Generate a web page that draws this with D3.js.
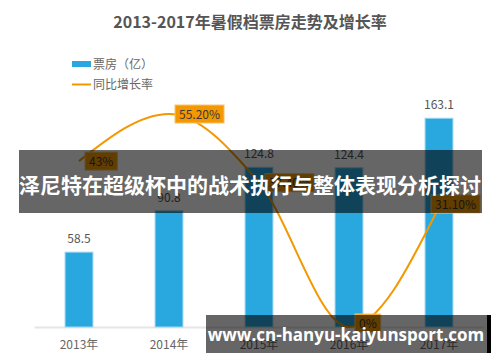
<!DOCTYPE html>
<html lang="zh">
<head>
    <meta charset="UTF-8">
    <title>票房走势</title>
    <script src="https://d3js.org/d3.v7.min.js"></script>
    <style>
        body { margin: 0; background: #fff; }
        text { font-family: "Noto Sans CJK SC", "Noto Sans", sans-serif; }
    </style>
</head>
<body>
<script>
    // data
    var years = ["2013年", "2014年", "2015年", "2016年", "2017年"];
    var boxOffice = [58.5, 90.8, 124.8, 124.4, 163.1];
    var growth = [43, 55.2, 37.4, 0, 31.1];
    var growthLabels = ["43%", "55.20%", "37.40%", "0%", "31.10%"];

    var width = 500, height = 362;
    var margin = {top: 71, right: 16, bottom: 35, left: 34};

    var svg = d3.select("body").append("svg")
        .attr("width", width)
        .attr("height", height);

    var x = d3.scaleBand()
        .domain(years)
        .range([margin.left, width - margin.right])
        .paddingInner(0.69)
        .paddingOuter(0.345);

    var yBar = d3.scaleLinear()
        .domain([0, 200])
        .range([height - margin.bottom, margin.top]);

    var yLine = d3.scaleLinear()
        .domain([0, 60])
        .range([height - margin.bottom, 95.5]);

    // title
    svg.append("text")
        .attr("x", width / 2)
        .attr("y", 28)
        .attr("text-anchor", "middle")
        .style("font-size", "16px")
        .style("font-weight", "bold")
        .style("fill", "#555")
        .text("2013-2017年暑假档票房走势及增长率");

    // legend
    svg.append("rect")
        .attr("x", 72).attr("y", 61)
        .attr("width", 19).attr("height", 6)
        .style("fill", "#29a8e0");
    svg.append("text")
        .attr("x", 93).attr("y", 68.5)
        .style("font-size", "12px")
        .style("fill", "#666")
        .text("票房（亿）");
    svg.append("line")
        .attr("x1", 72).attr("x2", 91)
        .attr("y1", 84.5).attr("y2", 84.5)
        .style("stroke", "#f39800")
        .style("stroke-width", 2);
    svg.append("text")
        .attr("x", 93).attr("y", 89)
        .style("font-size", "12px")
        .style("fill", "#666")
        .text("同比增长率");

    // x axis
    var xAxis = svg.append("g")
        .attr("transform", "translate(0," + (height - margin.bottom) + ")")
        .call(d3.axisBottom(x).tickSize(0).tickPadding(13));
    xAxis.select(".domain").style("stroke", "#e6e6e6").style("stroke-width", 2);
    xAxis.selectAll("text")
        .style("font-size", "12px")
        .style("fill", "#666")
        .style("font-family", "'Noto Sans CJK SC', sans-serif");

    // bars
    svg.selectAll(".bar")
        .data(boxOffice)
        .enter()
        .append("rect")
        .attr("class", "bar")
        .attr("x", function(d, i) { return x(years[i]); })
        .attr("y", function(d) { return yBar(d); })
        .attr("width", x.bandwidth())
        .attr("height", function(d) { return yBar(0) - yBar(d); })
        .style("fill", "#29a8e0")
        .style("stroke", "#9fd8f2")
        .style("stroke-width", 1);

    svg.selectAll(".barLabel")
        .data(boxOffice)
        .enter()
        .append("text")
        .attr("class", "barLabel")
        .attr("x", function(d, i) { return x(years[i]) + x.bandwidth() / 2; })
        .attr("y", function(d) { return yBar(d) - 9; })
        .attr("text-anchor", "middle")
        .style("font-size", "12px")
        .style("fill", "#555")
        .text(function(d) { return d; });

    // growth line
    var line = d3.line()
        .x(function(d, i) { return x(years[i]) + x.bandwidth() / 2; })
        .y(function(d) { return yLine(d); })
        .curve(d3.curveMonotoneX);

    svg.append("path")
        .datum(growth)
        .attr("d", line)
        .style("fill", "none")
        .style("stroke", "#f39800")
        .style("stroke-width", 2);

    // growth labels (last one pulled left, bottom one nudged up to stay inside)
    var labels = svg.selectAll(".growthLabel")
        .data(growth)
        .enter()
        .append("g")
        .attr("class", "growthLabel")
        .attr("transform", function(d, i) {
            var px = x(years[i]) + x.bandwidth() / 2 + 6;
            var py = yLine(d);
            if (i === growth.length - 1) { px = x(years[i]) + x.bandwidth() / 2 - 8; py -= 3; }
            if (d === 0) py -= 4;
            return "translate(" + px + "," + py + ")";
        });

    labels.each(function(d, i) {
        var g = d3.select(this);
        var t = g.append("text")
            .attr("x", 4)
            .attr("y", 4.5)
            .style("font-size", "12px")
            .style("fill", "#3a3a3a")
            .text(growthLabels[i]);
        var w = t.node().getComputedTextLength() + 8;
        g.insert("rect", "text")
            .attr("x", 0).attr("y", -9)
            .attr("width", w).attr("height", 18)
            .style("fill", "#f39800")
            .style("stroke", "#f8c46e")
            .style("stroke-width", 1);
    });

    // overlay banners
    svg.append("rect")
        .attr("x", 19).attr("y", 150)
        .attr("width", 463).attr("height", 63)
        .style("fill", "rgba(0,0,0,0.6)");
    svg.append("text")
        .attr("x", 250).attr("y", 193)
        .attr("text-anchor", "middle")
        .style("font-size", "21px")
        .style("font-weight", "bold")
        .style("fill", "#fff")
        .text("泽尼特在超级杯中的战术执行与整体表现分析探讨");

    svg.append("rect")
        .attr("x", 206).attr("y", 315)
        .attr("width", 281).attr("height", 38)
        .style("fill", "rgba(0,0,0,0.6)");
    svg.append("rect")
        .attr("x", 487).attr("y", 315)
        .attr("width", 4).attr("height", 38)
        .style("fill", "#000");
    svg.append("text")
        .attr("x", 346).attr("y", 341)
        .attr("text-anchor", "middle")
        .style("font-size", "17px")
        .style("font-weight", "bold")
        .style("fill", "#fff")
        .style("font-family", "'Open Sans', 'DejaVu Sans', sans-serif")
        .text("www.cn-hanyu-kaiyunsport.com");
</script>
</body>
</html>
